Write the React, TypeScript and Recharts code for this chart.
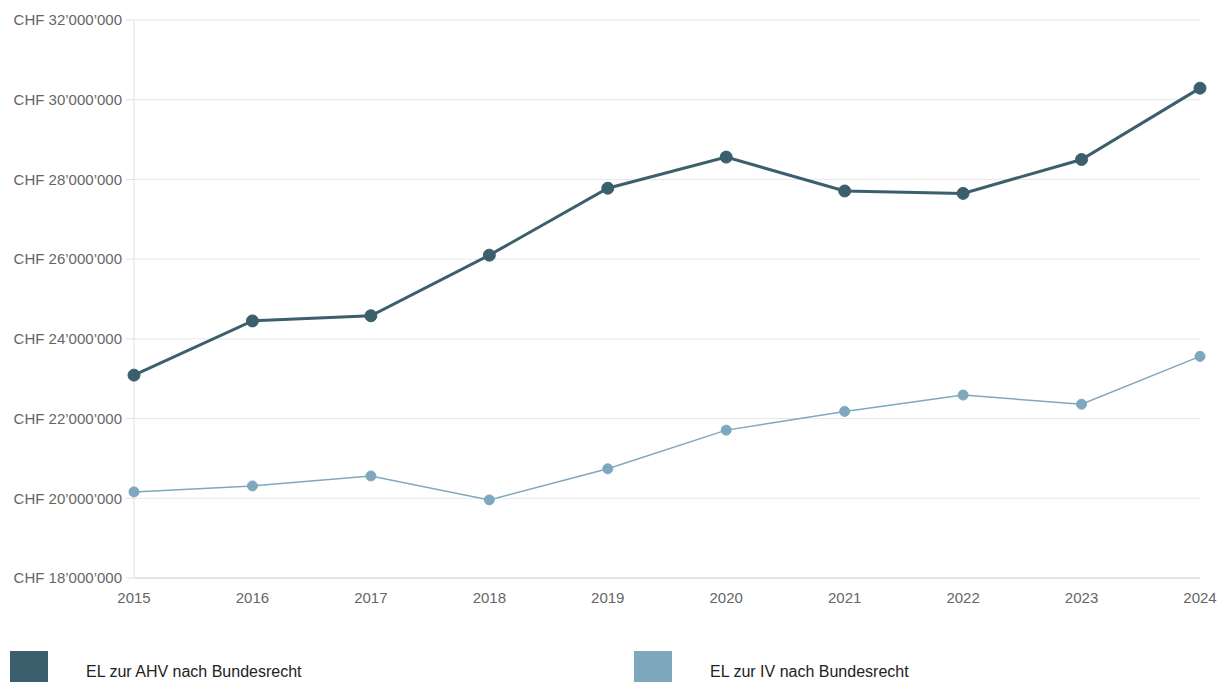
import { LineChart, Line, XAxis, YAxis, CartesianGrid } from "recharts";

const years = ["2015", "2016", "2017", "2018", "2019", "2020", "2021", "2022", "2023", "2024"];
const ahvValues = [23.09, 24.45, 24.58, 26.1, 27.78, 28.56, 27.71, 27.65, 28.5, 30.29];
const ivValues = [20.16, 20.31, 20.56, 19.96, 20.74, 21.71, 22.18, 22.59, 22.36, 23.56];
const yTicks = [18000000, 20000000, 22000000, 24000000, 26000000, 28000000, 30000000, 32000000];

const AHV_COLOR = "#3b5f6d";
const IV_COLOR = "#7fa8be";

const data = years.map((year, i) => ({
  year,
  ahv: Math.round(ahvValues[i] * 1000000),
  iv: Math.round(ivValues[i] * 1000000),
}));

const formatChf = (v: number) =>
  "CHF " + String(v).replace(/\B(?=(\d{3})+(?!\d))/g, "\u2019");

const legendItems = [
  { label: "EL zur AHV nach Bundesrecht", color: AHV_COLOR },
  { label: "EL zur IV nach Bundesrecht", color: IV_COLOR },
];

export default function App() {
  return (
    <div
      style={{
        position: "absolute",
        left: 0,
        top: 0,
        width: 1218,
        height: 682,
        overflow: "hidden",
        background: "#fff",
        fontFamily: "'Liberation Sans', Arial, sans-serif",
      }}
    >
      <LineChart
        width={1218}
        height={620}
        data={data}
        margin={{ top: 20, right: 18, left: 0, bottom: 0 }}
      >
        <CartesianGrid vertical={false} stroke="#e8e8e8" />
        <XAxis
          dataKey="year"
          tickLine={false}
          axisLine={{ stroke: "#d4d4d4" }}
          height={42}
          tickMargin={8}
          tick={{ fill: "#666", fontSize: 15 }}
          interval={0}
        />
        <YAxis
          width={134}
          domain={[18000000, 32000000]}
          ticks={yTicks}
          tickFormatter={formatChf}
          tickSize={8}
          tickMargin={4}
          tickLine={{ stroke: "#e0e0e0" }}
          axisLine={{ stroke: "#e0e0e0" }}
          tick={{ fill: "#666", fontSize: 15 }}
          interval={0}
        />
        <Line
          dataKey="iv"
          stroke={IV_COLOR}
          strokeWidth={1.5}
          dot={{ r: 5, fill: IV_COLOR, stroke: IV_COLOR, strokeWidth: 1 }}
          activeDot={false}
          isAnimationActive={false}
        />
        <Line
          dataKey="ahv"
          stroke={AHV_COLOR}
          strokeWidth={3}
          dot={{ r: 6, fill: AHV_COLOR, stroke: AHV_COLOR, strokeWidth: 1 }}
          activeDot={false}
          isAnimationActive={false}
        />
      </LineChart>
      <div style={{ position: "absolute", left: 10, top: 651, display: "flex" }}>
        {legendItems.map((item) => (
          <div key={item.label} style={{ display: "flex", alignItems: "center", width: 624 }}>
            <div style={{ width: 38, height: 31, background: item.color }} />
            <span style={{ marginLeft: 38, fontSize: 16, color: "#222", marginTop: 10 }}>
              {item.label}
            </span>
          </div>
        ))}
      </div>
    </div>
  );
}
